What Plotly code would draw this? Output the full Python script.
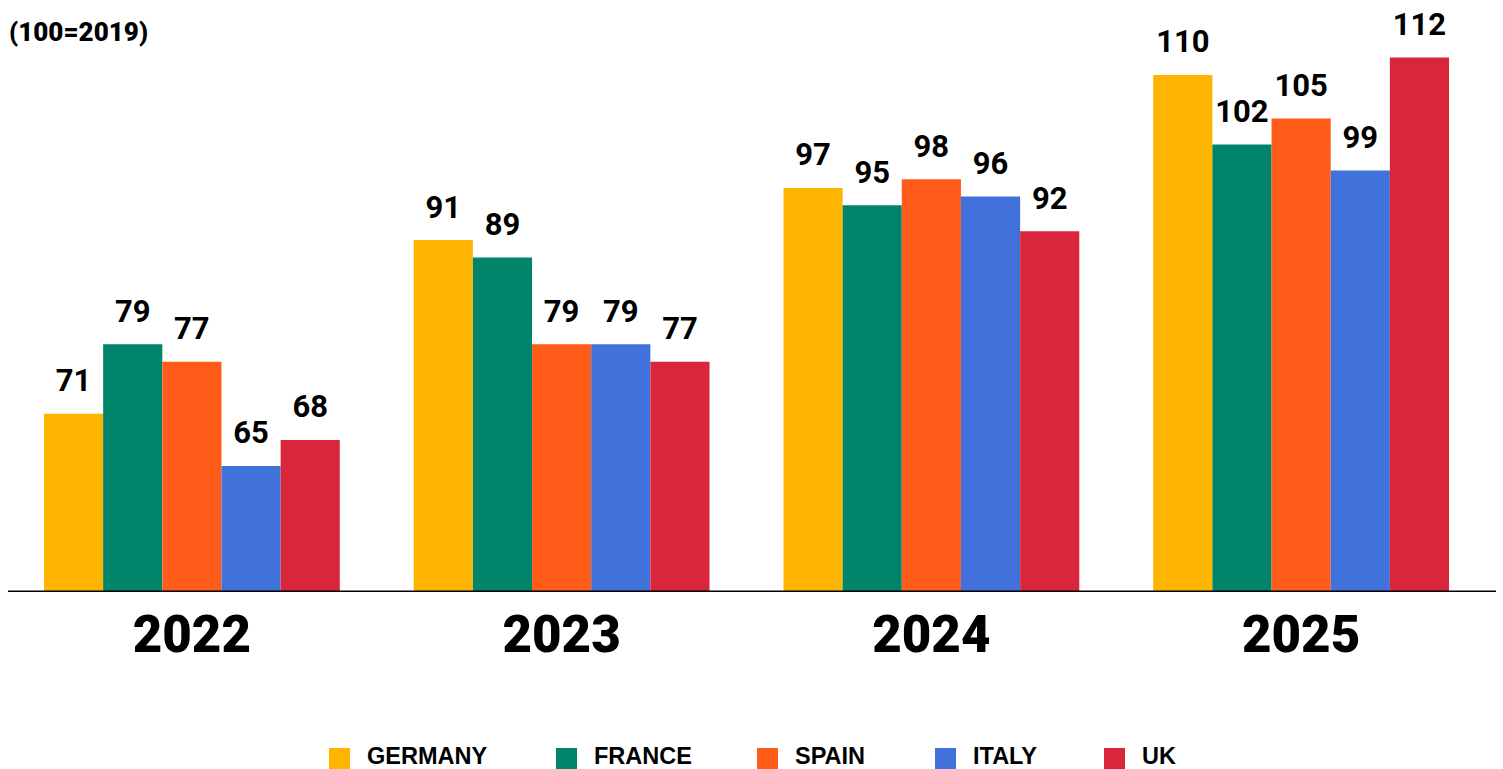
import plotly.graph_objects as go

# Index values (100 = 2019) by country and year
years = ["2022", "2023", "2024", "2025"]
countries = ["GERMANY", "FRANCE", "SPAIN", "ITALY", "UK"]
germany = [71, 91, 97, 110]
france = [79, 89, 95, 102]
spain = [77, 79, 98, 105]
italy = [65, 79, 96, 99]
uk = [68, 77, 92, 112]
series = [germany, france, spain, italy, uk]
colors = ["#FFB500", "#00846A", "#FF5B19", "#4171DB", "#D9263B"]

W, H = 1503, 769
M_L, M_R, M_T, M_B = 7, 17, 30, 177
PLOT_W = W - M_L - M_R
PLOT_H = H - M_T - M_B
Y_MIN, Y_MAX = 50.5, 115.17

VALUE_FONT = "Roboto, Liberation Sans, Arial, sans-serif"
BOLD_FONT = "Roboto, Liberation Sans, Arial, sans-serif"
LEGEND_FONT = "Liberation Sans, Arial, sans-serif"


def px_x(px):
    return (px - M_L) / PLOT_W


def px_y(py):
    return (H - M_B - py) / PLOT_H


fig = go.Figure()

for name, vals, col in zip(countries, series, colors):
    fig.add_trace(go.Bar(
        x=years, y=vals, name=name, marker=dict(color=col, line=dict(width=0)),
        hoverinfo="skip", showlegend=False,
    ))

# value labels sit above each bar, grouped the same way as the bars
for name, vals in zip(countries, series):
    fig.add_trace(go.Scatter(
        x=years, y=vals, mode="markers+text", text=[str(v) for v in vals],
        textposition="top center",
        textfont=dict(family=VALUE_FONT, size=31, color="#000000", weight="bold"),
        marker=dict(size=22, opacity=0), cliponaxis=False,
        hoverinfo="skip", showlegend=False,
    ))

shapes = [
    # baseline
    dict(type="line", xref="paper", yref="y", x0=px_x(8), x1=px_x(1496),
         y0=Y_MIN, y1=Y_MIN, line=dict(color="#000000", width=3)),
]
annotations = [
    dict(text="(100=2019)", xref="paper", yref="paper", x=px_x(7), y=px_y(32),
         xanchor="left", yanchor="middle", showarrow=False,
         font=dict(family=BOLD_FONT, size=26, color="#000000", weight=900)),
]

# legend: coloured squares with country names
legend_left = [329, 556, 757, 935, 1104]
for name, col, lx in zip(countries, colors, legend_left):
    shapes.append(dict(type="rect", xref="paper", yref="paper",
                       x0=px_x(lx), x1=px_x(lx + 21), y0=px_y(748), y1=px_y(769),
                       fillcolor=col, line=dict(width=0)))
    annotations.append(dict(text=name, xref="paper", yref="paper",
                            x=px_x(lx + 36), y=px_y(756), xanchor="left", yanchor="middle",
                            showarrow=False,
                            font=dict(family=LEGEND_FONT, size=23.5, color="#000000", weight="bold")))

fig.update_layout(
    width=W, height=H,
    margin=dict(l=M_L, r=M_R, t=M_T, b=M_B),
    paper_bgcolor="#FFFFFF", plot_bgcolor="#FFFFFF",
    barmode="group", bargap=0.2, bargroupgap=0,
    scattermode="group", scattergap=0.2,
    showlegend=False,
    shapes=shapes, annotations=annotations,
    xaxis=dict(type="category", showgrid=False, zeroline=False, showline=False, ticks="",
               ticklabelstandoff=8,
               tickfont=dict(family=BOLD_FONT, size=51, color="#000000", weight=900)),
    yaxis=dict(range=[Y_MIN, Y_MAX], visible=False, showgrid=False, zeroline=False),
)

fig.write_html("out.html")
